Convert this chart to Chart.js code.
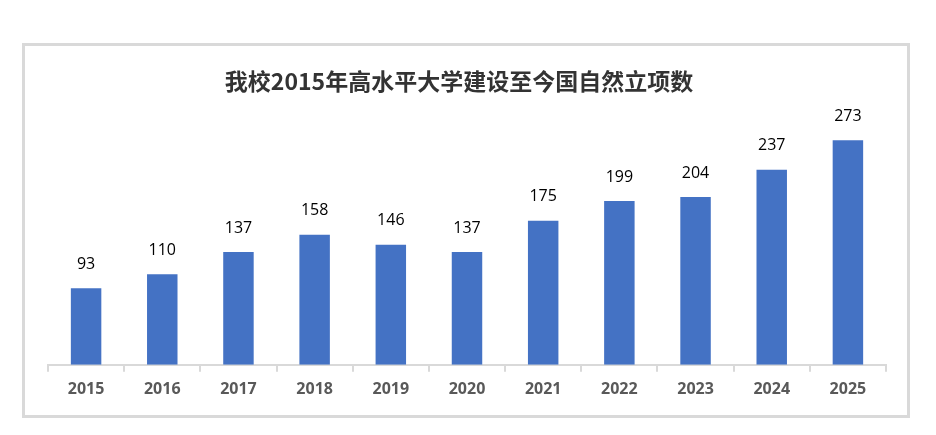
<!DOCTYPE html>
<html>
<head>
<meta charset="utf-8">
<script src="https://cdn.jsdelivr.net/npm/chart.js@4"></script>
<style>
  html, body { margin: 0; padding: 0; background: #fff; }
  #box {
    position: absolute; left: 22px; top: 43px;
    width: 882px; height: 369px;
    border: 3px solid #d9d9d9;
  }
  #chart { display: block; }
</style>
</head>
<body>
<div id="box"><canvas id="chart" width="882" height="369"></canvas></div>
<script>
const years = ['2015', '2016', '2017', '2018', '2019', '2020', '2021', '2022', '2023', '2024', '2025'];
const counts = [93, 110, 137, 158, 146, 137, 175, 199, 204, 237, 273];
const chartTitle = '我校2015年高水平大学建设至今国自然立项数';

// title drawn by hand so it sits where the reference has it
const titlePlugin = {
  id: 'titleText',
  afterDraw(chart) {
    const ctx = chart.ctx;
    ctx.save();
    ctx.font = 'bold 23px "Noto Sans CJK SC", sans-serif';
    ctx.fillStyle = '#333333';
    ctx.textAlign = 'center';
    ctx.textBaseline = 'middle';
    ctx.fillText(chartTitle, 434, 35);
    ctx.restore();
  }
};

// numbers above every bar
const valueLabels = {
  id: 'valueLabels',
  afterDatasetsDraw(chart) {
    const ctx = chart.ctx;
    const meta = chart.getDatasetMeta(0);
    ctx.save();
    ctx.font = '16px "Open Sans", sans-serif';
    ctx.fillStyle = '#000000';
    ctx.textAlign = 'center';
    ctx.textBaseline = 'middle';
    meta.data.forEach((bar, i) => {
      ctx.fillText(counts[i], bar.x, bar.y - 24);
    });
    ctx.restore();
  }
};

new Chart(document.getElementById('chart'), {
  type: 'bar',
  data: {
    labels: years,
    datasets: [{
      data: counts,
      backgroundColor: '#4472c4',
      categoryPercentage: 1,
      barPercentage: 0.4
    }]
  },
  options: {
    responsive: false,
    animation: false,
    layout: {
      padding: { top: 72, left: 23, right: 21, bottom: 8 }
    },
    plugins: {
      legend: { display: false },
      title: { display: false },
      tooltip: { enabled: false }
    },
    scales: {
      x: {
        border: { color: '#d9d9d9', width: 2 },
        grid: {
          drawOnChartArea: false,
          drawTicks: true,
          tickLength: 7,
          color: '#d9d9d9',
          lineWidth: 2
        },
        ticks: {
          padding: 8,
          color: '#595959',
          font: { family: '"Open Sans", sans-serif', size: 16, weight: 'bold' }
        }
      },
      y: {
        display: false,
        min: 0,
        max: 300
      }
    }
  },
  plugins: [titlePlugin, valueLabels]
});
</script>
</body>
</html>
